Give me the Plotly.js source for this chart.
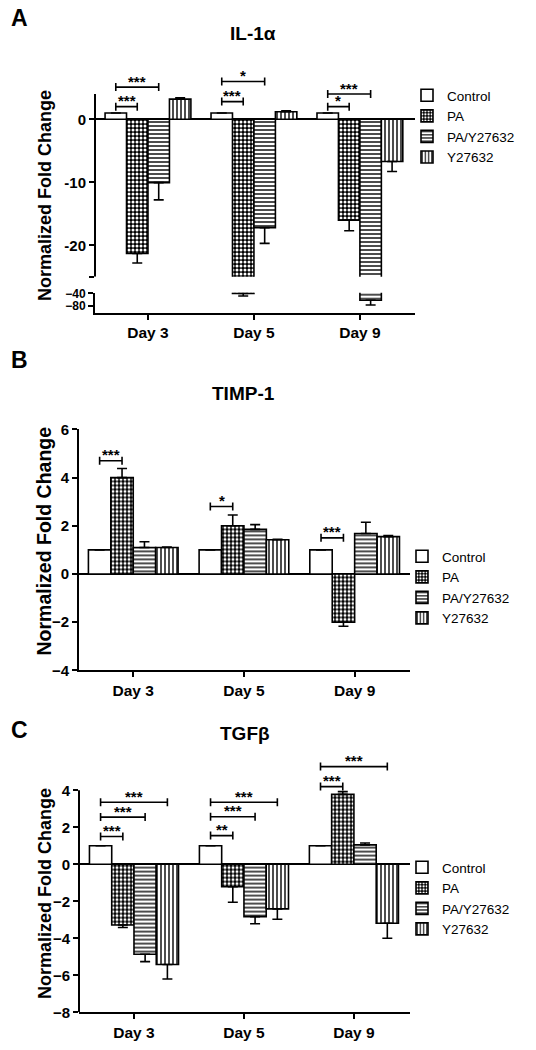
<!DOCTYPE html>
<html><head><meta charset="utf-8">
<script src="https://cdn.plot.ly/plotly-3.0.1.min.js"></script>
<style>html,body{margin:0;padding:0;background:#fff;}#chart{width:536px;height:1050px;}</style>
</head><body><div id="chart"></div>
<script>
// ---------- DATA ----------
const days = ['Day 3', 'Day 5', 'Day 9'];
const groups = ['Control', 'PA', 'PA/Y27632', 'Y27632'];

// Panel A: IL-1α
const il1aControl = [1, 1, 1];
const il1aPA = [-21.3, -40, -16.0];
const il1aPAY = [-10.05, -17.2, -62];
const il1aY = [3.2, 1.2, -6.7];
const il1aControlErr = [0, 0, 0];
const il1aPAErr = [1.5, 8.5, 1.7];
const il1aPAYErr = [2.75, 2.5, 14.7];
const il1aYErr = [0.2, 0.15, 1.6];

// Panel B: TIMP-1
const timpControl = [1, 1, 1];
const timpPA = [4.0, 2.0, -2.0];
const timpPAY = [1.1, 1.85, 1.68];
const timpY = [1.1, 1.42, 1.55];
const timpControlErr = [0, 0, 0];
const timpPAErr = [0.38, 0.45, 0.17];
const timpPAYErr = [0.24, 0.2, 0.47];
const timpYErr = [0.02, 0.02, 0.05];

// Panel C: TGFβ
const tgfControl = [1, 1, 1];
const tgfPA = [-3.28, -1.21, 3.78];
const tgfPAY = [-4.86, -2.83, 1.05];
const tgfY = [-5.42, -2.41, -3.19];
const tgfControlErr = [0, 0, 0];
const tgfPAErr = [0.14, 0.84, 0.15];
const tgfPAYErr = [0.4, 0.38, 0.1];
const tgfYErr = [0.78, 0.56, 0.81];

// significance brackets: [day index, from group, to group, height, label]
const il1aSig = [[0,0,1,2.0,'***'],[0,0,2,5.1,'***'],[1,0,1,2.8,'***'],[1,0,2,6.0,'*'],[2,0,1,2.0,'*'],[2,0,2,4.0,'***']];
const timpSig = [[0,0,1,4.7,'***'],[1,0,1,2.8,'*'],[2,0,1,1.5,'***']];
const tgfSig = [[0,0,1,1.5,'***'],[0,0,2,2.55,'***'],[0,0,3,3.35,'***'],[1,0,1,1.55,'**'],[1,0,2,2.57,'***'],[1,0,3,3.35,'***'],[2,0,1,4.2,'***'],[2,0,3,5.28,'***']];

// ---------- STYLE ----------
const FONT = 'Arial, "Liberation Sans", sans-serif';
const BARGAP = 0.19;
const H = 1050, W = 536;
const py = p => 1 - p / H;
const px = p => p / W;

const patterns = [
  {shape: '', bgcolor: 'white', fgcolor: 'black'},
  {shape: '.', bgcolor: 'black', fgcolor: 'white', size: 4, solidity: 0.45, fillmode: 'replace'},
  {shape: '-', bgcolor: 'white', fgcolor: 'black', size: 4, solidity: 0.35, fillmode: 'replace'},
  {shape: '|', bgcolor: 'white', fgcolor: 'black', size: 4, solidity: 0.35, fillmode: 'replace'}
];

function barTrace(k, vals, errs, xa, ya, legend, showlegend) {
  const pat = patterns[k];
  const m = {color: k === 1 ? 'black' : 'white', line: {color: 'black', width: 1.6}};
  if (pat.shape) m.pattern = pat;
  return {
    type: 'bar', name: groups[k], x: days, y: vals,
    xaxis: xa, yaxis: ya, legend: legend, showlegend: showlegend,
    marker: m, cliponaxis: true,
    error_y: {type: 'data', symmetric: false,
      array: vals.map((v, i) => v >= 0 ? errs[i] : 0),
      arrayminus: vals.map((v, i) => v < 0 ? errs[i] : 0),
      color: 'black', thickness: 1.6, width: 5}
  };
}

const traces = [];
const setA = [[il1aControl, il1aControlErr], [il1aPA, il1aPAErr], [il1aPAY, il1aPAYErr], [il1aY, il1aYErr]];
const setB = [[timpControl, timpControlErr], [timpPA, timpPAErr], [timpPAY, timpPAYErr], [timpY, timpYErr]];
const setC = [[tgfControl, tgfControlErr], [tgfPA, tgfPAErr], [tgfPAY, tgfPAYErr], [tgfY, tgfYErr]];
setA.forEach((s, k) => traces.push(barTrace(k, s[0], s[1], 'x', 'y', 'legend', true)));
setA.forEach((s, k) => traces.push(barTrace(k, s[0], s[1], 'x', 'y2', 'legend', false)));
setB.forEach((s, k) => traces.push(barTrace(k, s[0], s[1], 'x2', 'y3', 'legend2', true)));
setC.forEach((s, k) => traces.push(barTrace(k, s[0], s[1], 'x3', 'y4', 'legend3', true)));

const shapes = [];
const annotations = [];
const offset = k => (k - 1.5) * (1 - BARGAP) / 4;

function addSig(sig, xr, yr) {
  sig.forEach(([d, a, b, h, lab]) => {
    const x0 = d + offset(a), x1 = d + offset(b);
    const line = {color: 'black', width: 1.6};
    shapes.push({type: 'line', xref: xr, yref: yr, x0: x0, x1: x1, y0: h, y1: h, line: line});
    [x0, x1].forEach(xx => shapes.push({type: 'line', xref: xr, yref: yr, ysizemode: 'pixel', yanchor: h,
      x0: xx, x1: xx, y0: -4, y1: 4, line: line}));
    annotations.push({xref: xr, yref: yr, x: (x0 + x1) / 2, y: h, text: lab, showarrow: false,
      yanchor: 'middle', yshift: 6, font: {family: FONT, size: 15, color: 'black', weight: 'bold'}});
  });
}
addSig(il1aSig, 'x', 'y');
addSig(timpSig, 'x2', 'y3');
addSig(tgfSig, 'x3', 'y4');

// manual axis lines where the range is extended above the last tick
shapes.push({type: 'line', xref: 'x domain', yref: 'y', x0: 0, x1: 0, y0: -25, y1: 4, line: {color: 'black', width: 2}});
shapes.push({type: 'line', xref: 'x3 domain', yref: 'y4', x0: 0, x1: 0, y0: -8, y1: 4, line: {color: 'black', width: 2}});

function txt(text, xpx, ypx, size, extra) {
  annotations.push(Object.assign({xref: 'paper', yref: 'paper', x: px(xpx), y: py(ypx), text: text, showarrow: false,
    xanchor: 'center', yanchor: 'middle', font: {family: FONT, size: size, color: 'black', weight: 'bold'}}, extra || {}));
}
txt('A', 19, 18, 23);
txt('B', 19, 360, 23);
txt('C', 19, 730, 23);
txt('IL-1α', 253, 33, 19);
txt('TIMP-1', 243, 393, 19);
txt('TGFβ', 245, 733, 19);
txt('Normalized Fold Change', 45, 196, 18, {textangle: -90});
txt('Normalized Fold Change', 43, 541.5, 19.5, {textangle: -90});
txt('Normalized Fold Change', 45, 894, 18, {textangle: -90});

const tickFont = {family: FONT, size: 15, color: 'black', weight: 'bold'};
const dayFont = {family: FONT, size: 15.5, color: 'black', weight: 'bold'};
const baseY = {ticks: 'outside', ticklen: 5, tickwidth: 2, tickcolor: 'black', showgrid: false,
  zeroline: false, tickfont: tickFont, linecolor: 'black', linewidth: 2, fixedrange: true};
const baseX = {type: 'category', ticks: 'outside', ticklen: 5, tickwidth: 2, tickcolor: 'black', showgrid: false,
  zeroline: false, showline: true, linecolor: 'black', linewidth: 2, tickfont: dayFont, fixedrange: true};

const legendBase = {xanchor: 'left', yanchor: 'top', bgcolor: 'rgba(0,0,0,0)', borderwidth: 0,
  font: {family: FONT, size: 13.5, color: 'black'}, traceorder: 'normal'};

const layout = {
  width: W, height: H, margin: {l: 0, r: 0, t: 0, b: 0},
  paper_bgcolor: 'white', plot_bgcolor: 'rgba(0,0,0,0)',
  barmode: 'group', bargap: BARGAP, bargroupgap: 0,
  font: {family: FONT, color: 'black'},
  xaxis: Object.assign({}, baseX, {domain: [px(95), px(415)], range: [-0.5, 2.52], anchor: 'y2'}),
  yaxis: Object.assign({}, baseY, {domain: [py(276.8), py(72)], range: [-25, 7.5], anchor: 'x',
    tickvals: [-25, -20, -10, 0], ticktext: ['', '-20', '-10', '0'], showline: false,
    zeroline: true, zerolinecolor: 'black', zerolinewidth: 2}),
  yaxis2: Object.assign({}, baseY, {domain: [py(312.7), py(292.7)], range: [-101, -38], anchor: 'x',
    tickvals: [-40, -80], showline: true, tickfont: Object.assign({}, tickFont, {size: 12})}),
  xaxis2: Object.assign({}, baseX, {domain: [px(79), px(410)], range: [-0.49, 2.5], anchor: 'y3'}),
  yaxis3: Object.assign({}, baseY, {domain: [py(670.4), py(429.4)], range: [-4, 6], anchor: 'x2',
    tickvals: [-4, -2, 0, 2, 4, 6], showline: true, zeroline: true, zerolinecolor: 'black', zerolinewidth: 2}),
  xaxis3: Object.assign({}, baseX, {domain: [px(79), px(410)], range: [-0.5, 2.51], anchor: 'y4'}),
  yaxis4: Object.assign({}, baseY, {domain: [py(1012.3), py(749.6)], range: [-8, 6.2], anchor: 'x3',
    tickvals: [-8, -6, -4, -2, 0, 2, 4], showline: false, zeroline: true, zerolinecolor: 'black', zerolinewidth: 2}),
  legend: Object.assign({}, legendBase, {x: px(407), y: py(80)}),
  legend2: Object.assign({}, legendBase, {x: px(402), y: py(541)}),
  legend3: Object.assign({}, legendBase, {x: px(402), y: py(852)}),
  shapes: shapes,
  annotations: annotations,
  showlegend: true
};

Plotly.newPlot('chart', traces, layout, {displayModeBar: false, staticPlot: true});
</script>
</body></html>
